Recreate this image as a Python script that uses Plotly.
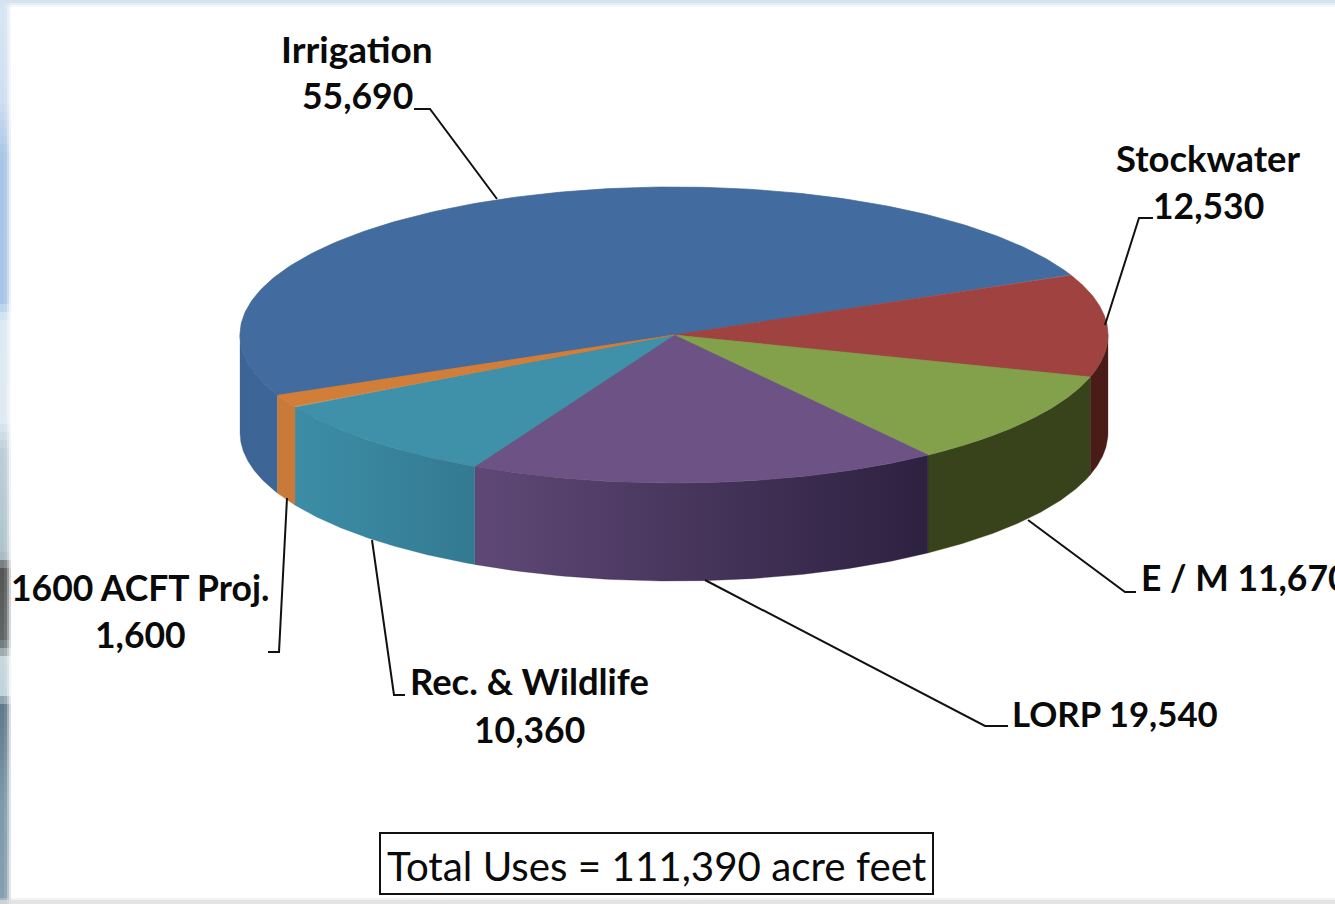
import numpy as np
import plotly.graph_objects as go

# ---- data ----
categories = ["Irrigation", "Stockwater", "E / M", "LORP", "Rec. & Wildlife", "1600 ACFT Proj."]
values = [55690, 12530, 11670, 19540, 10360, 1600]
total_label = "Total Uses = 111,390 acre feet"

# ---- styles ----
top_colors = ["#426b9f", "#a04240", "#83a04a", "#6d5385", "#3f90a9", "#d37e38"]
wall_colors = [("#3c6596", "#3d6697"), ("#4a1c18", "#4a1c18"), ("#38431c", "#38431c"),
               ("#5f4876", "#2d2140"), ("#3c8da7", "#337a91"), ("#c87a38", "#c87a38")]
edge_top = ["#3f6796", "#96403d", "#7c984a", "#67507e", "#3b88a0", "#c77733"]

# ---- geometry of the tilted pie (pixels of the 1335x904 page) ----
W, H = 1335, 904
CX, CY, RX, RY, DEPTH = 674, 335, 434, 148, 98
START_DEG = 156

def ex(a):
    return CX + RX * np.cos(np.radians(a))
def ey(a):
    return CY + RY * np.sin(np.radians(a))

sweeps = np.array(values) / sum(values) * 360
edges = START_DEG + np.concatenate([[0], np.cumsum(sweeps)])

fig = go.Figure()

# side walls, only the front half (0..180 degrees) is visible
for i in range(len(values)):
    for shift in (0, 360):
        a0 = max(edges[i], shift)
        a1 = min(edges[i + 1], shift + 180)
        if a1 <= a0:
            continue
        t = np.linspace(a0, a1, 80)
        xs = np.concatenate([ex(t), ex(t[::-1]), [ex(t[0])]])
        ys = np.concatenate([ey(t), ey(t[::-1]) + DEPTH, [ey(t[0])]])
        c0, c1 = wall_colors[i]
        fig.add_trace(go.Scatter(
            x=xs, y=ys, mode="lines", fill="toself",
            line=dict(color=c1, width=0.3),
            fillgradient=dict(type="horizontal", colorscale=[[0, c0], [1, c1]]),
            hoverinfo="skip", showlegend=False))

# top faces
for i in range(len(values)):
    t = np.linspace(edges[i], edges[i + 1], 200)
    xs = np.concatenate([[CX], ex(t), [CX]])
    ys = np.concatenate([[CY], ey(t), [CY]])
    fig.add_trace(go.Scatter(
        x=xs, y=ys, mode="lines", fill="toself", fillcolor=top_colors[i],
        line=dict(color=edge_top[i], width=0.7),
        hoverinfo="skip", showlegend=False))

# leader lines
leaders = [
    [(414, 109), (430, 109), (497, 199)],
    [(1153, 218), (1139, 218), (1105, 325)],
    [(1136, 592), (1125, 592), (1028, 520)],
    [(1008, 726), (985, 726), (705, 580)],
    [(405, 695), (394, 695), (372, 540)],
    [(268, 652), (279, 652), (287, 498)],
]
for pts in leaders:
    fig.add_trace(go.Scatter(
        x=[p[0] for p in pts], y=[p[1] for p in pts], mode="lines",
        line=dict(color="#111111", width=2), hoverinfo="skip", showlegend=False))

# labels: text, x, y, anchor, font size
label_lines = [
    (categories[0], 357, 48, "center", 37), (f"{values[0]:,}", 357, 95, "center", 35.5),
    (categories[1], 1208, 158, "center", 36.4), (f"{values[1]:,}", 1208, 205, "center", 35.5),
    (f"{categories[2]} {values[2]:,}", 1139, 577, "left", 35.5),
    (f"{categories[3]} {values[3]:,}", 1010, 713, "left", 34.8),
    (categories[4], 529, 681, "center", 36.4), (f"{values[4]:,}", 529, 729, "center", 35.5),
    (categories[5], 140, 587, "center", 35.5), (f"{values[5]:,}", 140, 634, "center", 35.5),
]
annotations = [dict(x=x, y=y, text=s, showarrow=False, xanchor=a, yanchor="middle",
                    font=dict(family="Lato", size=z, color="#0a0a0a", weight="bold"),
                    xref="x", yref="y") for s, x, y, a, z in label_lines]
annotations.append(dict(x=657, y=865, text=total_label, showarrow=False, xanchor="center",
                        yanchor="middle", font=dict(family="Lato", size=40.3, color="#0a0a0a"),
                        xref="x", yref="y"))

# page decoration: blurred picture frame behind the white panel
frame_y = [0, 100, 160, 300, 320, 420, 450, 555, 570, 640, 660, 695, 705, 800, 904]
frame_rgb = [(216, 230, 244), (207, 224, 241), (168, 196, 230), (169, 198, 232), (221, 233, 243),
             (224, 234, 242), (188, 207, 216), (176, 196, 204), (85, 85, 85), (96, 104, 104),
             (200, 216, 221), (192, 212, 220), (96, 120, 138), (125, 153, 170), (136, 160, 176)]
shapes = []
frame_fade = [(0, 4, 1.0), (4, 7, 0.9), (7, 9, 0.6), (9, 11, 0.25)]
step = 8
for yy in range(0, H, step):
    rgb = [int(np.interp(yy + step / 2, frame_y, [c[k] for c in frame_rgb])) for k in range(3)]
    for x0, x1, op in frame_fade:
        shapes.append(dict(type="rect", x0=x0, x1=x1, y0=yy, y1=yy + step,
                           fillcolor=f"rgb({rgb[0]},{rgb[1]},{rgb[2]})",
                           opacity=op, line_width=0, layer="below"))
for y0, y1, col, op in [(0, 3, "#d5e3f1", 1), (3, 5, "#d5e3f1", 0.6), (5, 7, "#d5e3f1", 0.25),
                        (900, 904, "#dddddd", 0.8), (898, 900, "#dddddd", 0.35)]:
    shapes.append(dict(type="rect", x0=0, x1=W, y0=y0, y1=y1, fillcolor=col, opacity=op,
                       line_width=0, layer="below"))
shapes.append(dict(type="rect", x0=380, x1=933, y0=833, y1=894, line=dict(color="#111111", width=2),
                   fillcolor="rgba(0,0,0,0)"))

fig.update_layout(
    width=W, height=H, margin=dict(l=0, r=0, t=0, b=0), showlegend=False,
    paper_bgcolor="white", plot_bgcolor="white", shapes=shapes, annotations=annotations,
    xaxis=dict(range=[0, W], visible=False, fixedrange=True),
    yaxis=dict(range=[H, 0], visible=False, fixedrange=True),
)
fig.write_html("out.html", config=dict(displayModeBar=False),
               post_script="document.body.style.margin='0';document.body.style.overflow='hidden';")
